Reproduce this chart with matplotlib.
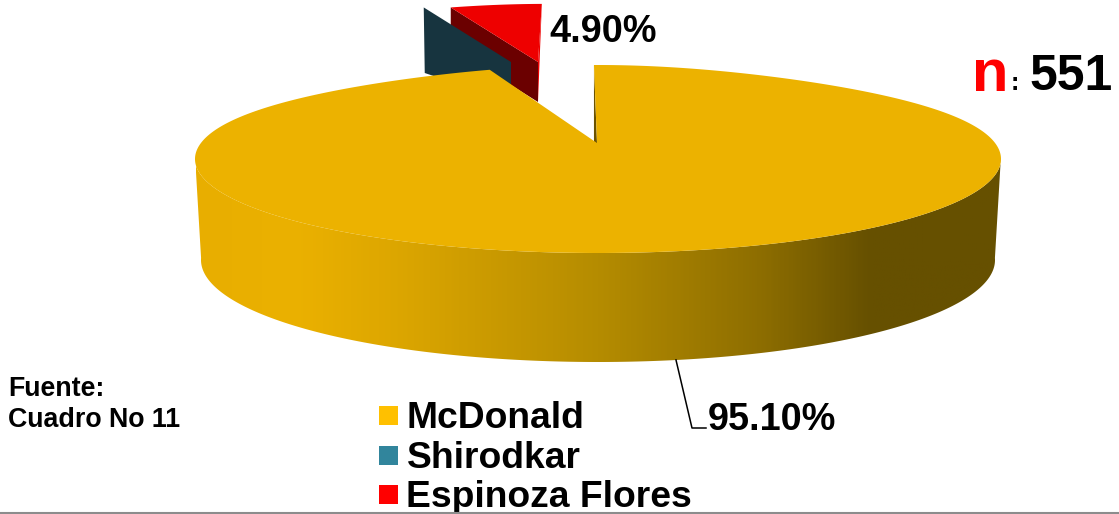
import numpy as np
import matplotlib
matplotlib.use('Agg')
import matplotlib.pyplot as plt
from matplotlib.colors import LinearSegmentedColormap
from matplotlib.patches import Polygon, Rectangle

plt.rcParams['font.family'] = ['Liberation Sans', 'DejaVu Sans']

# data
categories = ['McDonald', 'Shirodkar', 'Espinoza Flores']
shares = [95.10, 0.0, 4.90]
big_label = '95.10%'
small_label = '4.90%'
n_value = '551'
source_lines = ['Fuente:', 'Cuadro No 11']

legend_colors = ['#FFC000', '#31859C', '#FF0000']

# pie geometry in pixels, y going down
cx, cy = 598, 159
rx, ry = 403, 94
rx_low, ry_low, cy_low = 397, 102, 260
apex = np.array([597.0, 143.0])
start_deg = -0.7
persp = 0.18
depth_small = 40


def rim(t):
    # t in radians, clockwise from 12 o'clock, far side is squeezed a bit
    x = cx + rx * np.sin(t) * (1 - persp * np.maximum(np.cos(t), 0) ** 4)
    y = cy - ry * np.cos(t)
    return np.column_stack([x, y])


def rim_low(t):
    x = cx + rx_low * np.sin(t)
    y = cy_low - ry_low * np.cos(t)
    return np.column_stack([x, y])


def small_rim(t, new_apex):
    # pulled out slices sit further back so they look smaller
    d = rim(t) - apex
    x = new_apex[0] + 0.87 * d[:, 0] - 0.083 * d[:, 1]
    y = new_apex[1] + 0.745 * d[:, 1]
    return np.column_stack([x, y])


fig = plt.figure(figsize=(11.19, 5.14), dpi=100)
ax = fig.add_axes((0, 0, 1, 1))
ax.set_xlim(0, 1119)
ax.set_ylim(514, 0)
ax.axis('off')

# slice angles from the shares
edges = np.radians(start_deg + np.cumsum([0] + shares) * 3.6)
big_end = edges[1]
last_end = edges[3]

# Espinoza Flores, pulled out
red_apex = np.array([538.0, 62.0])
t = np.linspace(edges[2], last_end, 30)
red_top = small_rim(t, red_apex)
down = np.array([0, depth_small])
ax.add_patch(Polygon([red_top[0], red_apex, red_apex + down, red_top[0] + down],
                     fc='#6B0000', lw=0, zorder=2))
ax.add_patch(Polygon([red_top[-1], red_apex, red_apex + down], fc='#EE0000', lw=0, zorder=2))
ax.add_patch(Polygon(np.vstack([red_top, red_apex]), fc='#EE0000', lw=0, zorder=2))

# Shirodkar has no top face, only the cut side shows
teal_apex = np.array([511.0, 62.0])
teal_rim = small_rim(np.array([edges[1]]), teal_apex)[0]
teal_low = np.array([teal_rim[0] + 1, 73])
ax.add_patch(Polygon([teal_rim, teal_apex, teal_apex + down, teal_low],
                     fc='#17343F', lw=0, zorder=3))

# McDonald side wall with gradient
front = np.linspace(np.pi / 2 - 0.02, 3 * np.pi / 2 + 0.02, 300)
wall = Polygon(np.vstack([rim(front), rim_low(front)[::-1]]), fc='none', lw=0, zorder=4)
ax.add_patch(wall)
wall_cmap = LinearSegmentedColormap.from_list('wall', [
    (0.0, '#665000'), (0.16, '#665000'), (0.30, '#8E6E00'), (0.50, '#B58C00'),
    (0.75, '#DCA600'), (0.88, '#EBB100'), (1.0, '#E8AE00')])
grad = ax.imshow(np.linspace(1, 0, 400).reshape(1, -1), cmap=wall_cmap, vmin=0, vmax=1,
                 extent=(196, 1001, 362, 160), aspect='auto', zorder=4)
grad.set_clip_path(wall)
ax.set_xlim(0, 1119)
ax.set_ylim(514, 0)

# cut face seen through the gap
r0 = rim(np.array([np.radians(start_deg)]))[0]
ax.add_patch(Polygon([r0, apex, apex + [0, 4], r0 + [0, 79]], fc='#6B5300', lw=0, zorder=4))

# McDonald top
t = np.linspace(np.radians(start_deg), big_end, 500)
ax.add_patch(Polygon(np.vstack([rim(t), apex]), fc='#ECB200', lw=0, zorder=5))

# leader line and value labels
ax.plot([676, 692, 706], [360, 428, 428], color='black', lw=1.1, zorder=6)
ax.text(708, 430, big_label, fontsize=27.3, fontweight='bold', va='baseline')
ax.text(549, 42, small_label, fontsize=27.3, fontweight='bold', va='baseline')

# n
ax.text(972, 91, 'n', fontsize=43, fontweight='bold', color='#FF0000', va='baseline')
ax.text(1011, 90, ':', fontsize=18, fontweight='bold', va='baseline')
ax.text(1029, 90, n_value, fontsize=36, fontweight='bold', va='baseline')

# source note
ax.text(8, 396, source_lines[0], fontsize=19.3, fontweight='bold', va='baseline')
ax.text(8, 427, source_lines[1], fontsize=19.3, fontweight='bold', va='baseline')

# legend
for i, name in enumerate(categories):
    y0 = 406 + i * 39.5
    ax.add_patch(Rectangle((379, y0), 19, 19, fc=legend_colors[i], lw=0))
    ax.text(406.5, y0 + 22, name, fontsize=26.8, fontweight='bold', va='baseline')

# bottom rule
ax.plot([0, 1119], [513, 513], color='#8C8C8C', lw=1.5, zorder=6)

fig.savefig('out.png', dpi=100)
